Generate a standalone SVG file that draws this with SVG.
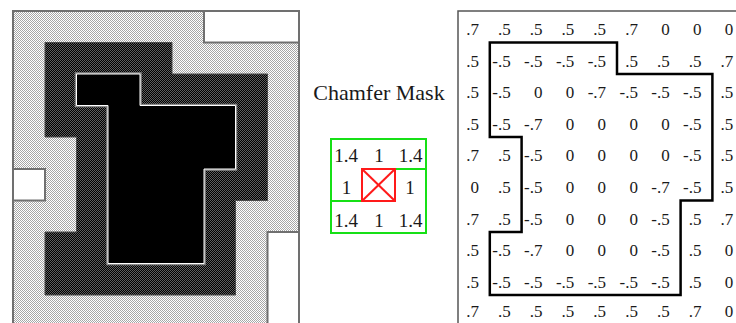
<svg xmlns="http://www.w3.org/2000/svg" width="736" height="323" viewBox="0 0 736 323">
  <defs>
    <pattern id="lightDots" patternUnits="userSpaceOnUse" width="2" height="2">
      <rect width="2" height="2" fill="#ffffff"/>
      <rect x="0" y="0" width="1" height="1" fill="#a6a6a6"/>
      <rect x="1" y="1" width="1" height="1" fill="#a6a6a6"/>
    </pattern>
    <pattern id="darkDots" patternUnits="userSpaceOnUse" width="2" height="2">
      <rect width="2" height="2" fill="#000000"/>
      <rect x="0" y="0" width="1" height="1" fill="#5e5e5e"/>
      <rect x="1" y="1" width="1" height="1" fill="#5e5e5e"/>
    </pattern>
    <style>
      .frame { stroke: #707070; stroke-width: 2; }
      .hole { fill: #ffffff; stroke: #707070; stroke-width: 2; }
      .dark { fill: url(#darkDots); stroke: #4a4a4a; stroke-width: 1; }
      .core { fill: #000000; }
      .coreEdgeOuter { fill: none; stroke: #8c8c8c; stroke-width: 3.5; }
      .coreEdgeInner { fill: none; stroke: #ffffff; stroke-width: 1; }
      .label { font-family: "Liberation Serif", "Times New Roman", serif; fill: #1a1a1a; }
      .title { font-size: 22px; }
      .mask { font-size: 19px; text-anchor: middle; }
      .cells { font-size: 17px; text-anchor: end; }
      .green { fill: none; stroke: #16e016; stroke-width: 2; }
      .red { fill: none; stroke: #ff1a1a; stroke-width: 2; }
      .tframe { fill: none; stroke: #555555; stroke-width: 1.5; }
      .contour { fill: none; stroke: #000000; stroke-width: 2.5; stroke-linejoin: miter; }
    </style>
  </defs>
  <rect width="736" height="323" fill="#ffffff"/>

  <g id="distance-map">
    <rect class="frame" x="13" y="11" width="286" height="330" fill="url(#lightDots)"/>
    <rect class="hole" x="204" y="11" width="95" height="31.5"/>
    <rect class="hole" x="13" y="169" width="32" height="31.5"/>
    <rect class="hole" x="267.5" y="232" width="31.5" height="110"/>
    <path class="dark" d="M45,42.5 H172 V74 H267.5 V200.5 H235.5 V295 H45 V232 H76.5 V137 H45 Z"/>
    <path class="coreEdgeOuter" d="M76.5,74 H140 V105.5 H235.5 V169 H204 V263.5 H108 V105.5 H76.5 Z"/>
    <path class="core" d="M76.5,74 H140 V105.5 H235.5 V169 H204 V263.5 H108 V105.5 H76.5 Z"/>
    <path class="coreEdgeInner" d="M76.5,74 H140 V105.5 H235.5 V169 H204 V263.5 H108 V105.5 H76.5 Z"/>
  </g>

  <g id="chamfer-mask">
    <text class="label title" x="379" y="99.5" text-anchor="middle">Chamfer Mask</text>
    <rect class="green" x="331" y="139" width="95" height="94"/>
    <line class="green" x1="395" y1="169" x2="426" y2="169"/>
    <line class="green" x1="331" y1="201" x2="362" y2="201"/>
    <rect class="red" x="362" y="169" width="33" height="32"/>
    <line class="red" x1="362" y1="169" x2="395" y2="201"/>
    <line class="red" x1="395" y1="169" x2="362" y2="201"/>
    <text class="label mask" y="162"><tspan x="346">1.4</tspan><tspan x="379">1</tspan><tspan x="410.5">1.4</tspan></text>
    <text class="label mask" y="193.5"><tspan x="346.5">1</tspan><tspan x="410">1</tspan></text>
    <text class="label mask" y="226.5"><tspan x="346">1.4</tspan><tspan x="379">1</tspan><tspan x="410.5">1.4</tspan></text>
  </g>

  <g id="value-table">
    <rect class="tframe" x="458" y="11" width="300" height="330"/>
    <path class="contour" d="M489.8,42.5 H617 V74 H712.4 V200.5 H680.6 V295 H489.8 V232 H521.6 V137 H489.8 Z"/>
    <g class="label cells">
      <text y="35"><tspan x="478.9">.7</tspan><tspan x="510.7">.5</tspan><tspan x="542.5">.5</tspan><tspan x="574.3">.5</tspan><tspan x="606.1">.5</tspan><tspan x="637.9">.7</tspan><tspan x="669.7">0</tspan><tspan x="701.5">0</tspan><tspan x="733.3">0</tspan></text>
      <text y="66.5"><tspan x="478.9">.5</tspan><tspan x="510.7">-.5</tspan><tspan x="542.5">-.5</tspan><tspan x="574.3">-.5</tspan><tspan x="606.1">-.5</tspan><tspan x="637.9">.5</tspan><tspan x="669.7">.5</tspan><tspan x="701.5">.5</tspan><tspan x="733.3">.7</tspan></text>
      <text y="98"><tspan x="478.9">.5</tspan><tspan x="510.7">-.5</tspan><tspan x="542.5">0</tspan><tspan x="574.3">0</tspan><tspan x="606.1">-.7</tspan><tspan x="637.9">-.5</tspan><tspan x="669.7">-.5</tspan><tspan x="701.5">-.5</tspan><tspan x="733.3">.5</tspan></text>
      <text y="129.5"><tspan x="478.9">.5</tspan><tspan x="510.7">-.5</tspan><tspan x="542.5">-.7</tspan><tspan x="574.3">0</tspan><tspan x="606.1">0</tspan><tspan x="637.9">0</tspan><tspan x="669.7">0</tspan><tspan x="701.5">-.5</tspan><tspan x="733.3">.5</tspan></text>
      <text y="161"><tspan x="478.9">.7</tspan><tspan x="510.7">.5</tspan><tspan x="542.5">-.5</tspan><tspan x="574.3">0</tspan><tspan x="606.1">0</tspan><tspan x="637.9">0</tspan><tspan x="669.7">0</tspan><tspan x="701.5">-.5</tspan><tspan x="733.3">.5</tspan></text>
      <text y="193"><tspan x="478.9">0</tspan><tspan x="510.7">.5</tspan><tspan x="542.5">-.5</tspan><tspan x="574.3">0</tspan><tspan x="606.1">0</tspan><tspan x="637.9">0</tspan><tspan x="669.7">-.7</tspan><tspan x="701.5">-.5</tspan><tspan x="733.3">.5</tspan></text>
      <text y="224.5"><tspan x="478.9">.7</tspan><tspan x="510.7">.5</tspan><tspan x="542.5">-.5</tspan><tspan x="574.3">0</tspan><tspan x="606.1">0</tspan><tspan x="637.9">0</tspan><tspan x="669.7">-.5</tspan><tspan x="701.5">.5</tspan><tspan x="733.3">.7</tspan></text>
      <text y="256"><tspan x="478.9">.5</tspan><tspan x="510.7">-.5</tspan><tspan x="542.5">-.7</tspan><tspan x="574.3">0</tspan><tspan x="606.1">0</tspan><tspan x="637.9">0</tspan><tspan x="669.7">-.5</tspan><tspan x="701.5">.5</tspan><tspan x="733.3">0</tspan></text>
      <text y="287.5"><tspan x="478.9">.5</tspan><tspan x="510.7">-.5</tspan><tspan x="542.5">-.5</tspan><tspan x="574.3">-.5</tspan><tspan x="606.1">-.5</tspan><tspan x="637.9">-.5</tspan><tspan x="669.7">-.5</tspan><tspan x="701.5">.5</tspan><tspan x="733.3">0</tspan></text>
      <text y="317"><tspan x="478.9">.7</tspan><tspan x="510.7">.5</tspan><tspan x="542.5">.5</tspan><tspan x="574.3">.5</tspan><tspan x="606.1">.5</tspan><tspan x="637.9">.5</tspan><tspan x="669.7">.5</tspan><tspan x="701.5">.7</tspan><tspan x="733.3">0</tspan></text>
    </g>
  </g>
</svg>
